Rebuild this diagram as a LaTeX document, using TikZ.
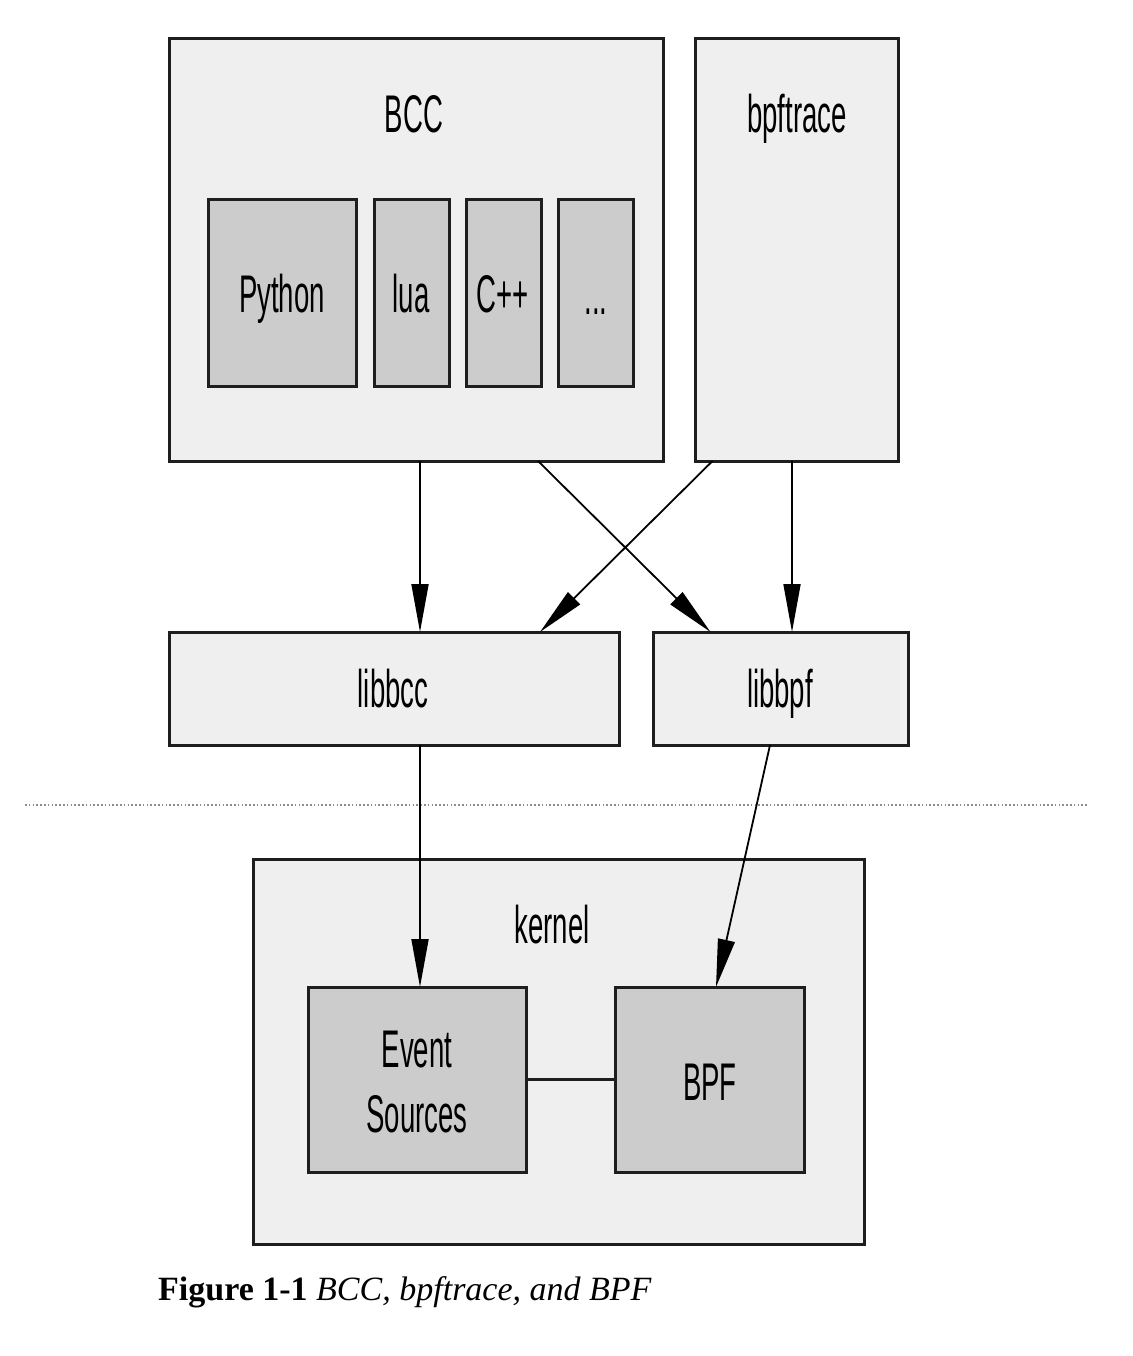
\documentclass[tikz,border=0pt]{standalone}
\usepackage{fontspec}
\usetikzlibrary{arrows.meta}
\newfontfamily\narrowsans[FakeStretch=0.52]{Liberation Sans}
\setmainfont{Liberation Serif}
\definecolor{outerfill}{HTML}{EFEFEF}
\definecolor{innerfill}{HTML}{CCCCCC}
\definecolor{edge}{HTML}{1E1E1E}
\begin{document}
\begin{tikzpicture}[x=1pt,y=-1pt,
  outerbox/.style={draw=edge,line width=3pt,fill=outerfill,inner sep=0pt,outer sep=0pt,anchor=north west},
  innerbox/.style={draw=edge,line width=3pt,fill=innerfill,inner sep=0pt,outer sep=0pt,anchor=north west},
  lbl/.style={font=\narrowsans\fontsize{53}{65}\selectfont,anchor=base,inner sep=0pt,text=black},
  arr/.style={draw=black,line width=1.8pt,-{Triangle[length=48pt,width=17pt]}}]
\useasboundingbox (0,0) rectangle (1132,1356);
\fill[white] (0,0) rectangle (1132,1356);
% top boxes
\node[outerbox,minimum width=494,minimum height=422] (bcc) at (169,39) {};
\node[outerbox,minimum width=203,minimum height=422] (bpft) at (695,39) {};
\node[innerbox,minimum width=148,minimum height=186] (py) at (208,200) {};
\node[innerbox,minimum width=75,minimum height=186] (lua) at (374,200) {};
\node[innerbox,minimum width=75,minimum height=186] (cpp) at (466,200) {};
\node[innerbox,minimum width=75,minimum height=186] (dots) at (558,200) {};
% libs
\node[outerbox,minimum width=450,minimum height=113] (libbcc) at (169,632) {};
\node[outerbox,minimum width=255,minimum height=113] (libbpf) at (653,632) {};
% kernel
\node[outerbox,minimum width=611,minimum height=385] (kern) at (253,859) {};
\node[innerbox,minimum width=218,minimum height=185] (evt) at (308,987) {};
\node[innerbox,minimum width=189,minimum height=185] (bpfk) at (615,987) {};
% labels
\node[lbl] (tbcc) at (414,133) {BCC};
\node[lbl] (tbpft) at (797,133) {bpftrace};
\node[lbl] (tpy) at (282,312) {Python};
\node[lbl] (tlua) at (411,312) {lua};
\node[lbl] (tcpp) at (503,312) {C++};
\node[lbl] (tdots) at (596,314) {...};
\node[lbl] (tlibbcc) at (393,707) {libbcc};
\node[lbl] (tlibbpf) at (780,707) {libbpf};
\node[lbl] (tkern) at (552,943) {kernel};
\node[lbl] (tevt1) at (417,1067) {Event};
\node[lbl] (tevt2) at (417,1132) {Sources};
\node[lbl] (tbpf) at (710,1100) {BPF};
% separator
\coordinate (sepL) at (25,805);
\coordinate (sepR) at (1087,805);
\draw[black!45,line width=1.6pt,dash pattern=on 1.6pt off 2.2pt] (sepL) -- (sepR);
% connectors
\draw[arr] ([xshift=4pt]bcc.south) -- ([xshift=26pt]libbcc.north);
\draw[arr] ([xshift=122pt]bcc.south) -- ([xshift=-70pt]libbpf.north);
\draw[arr] ([xshift=-84pt]bpft.south) -- ([xshift=146pt]libbcc.north);
\draw[arr] ([xshift=-4.5pt]bpft.south) -- ([xshift=11.5pt]libbpf.north);
\draw[arr] ([xshift=26pt]libbcc.south) -- ([xshift=3pt]evt.north);
\draw[arr] ([xshift=-10.5pt]libbpf.south) -- ([xshift=6.5pt]bpfk.north);
\draw[edge,line width=2.8pt] (evt.east) -- (bpfk.west);
% caption
\node[anchor=base west,inner sep=0pt,font=\fontsize{34}{40}\selectfont] (cap) at (158,1300) {\textbf{Figure 1-1} \textit{BCC, bpftrace, and BPF}};
\end{tikzpicture}
\end{document}
